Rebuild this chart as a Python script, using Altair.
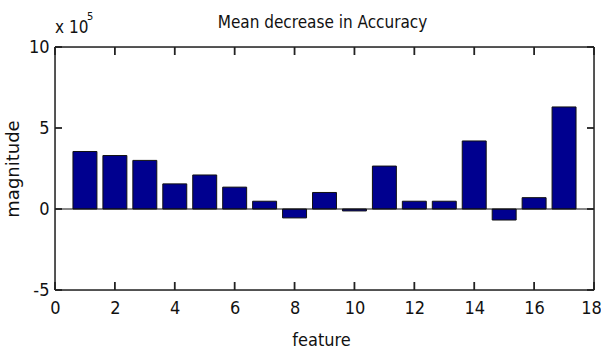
import altair as alt
import pandas as pd

features = list(range(1, 18))
values_e5 = [3.55, 3.3, 3.0, 1.55, 2.1, 1.35, 0.48, -0.55, 1.02, -0.12,
             2.65, 0.48, 0.48, 4.2, -0.68, 0.7, 6.3]
x_ticks = [0, 2, 4, 6, 8, 10, 12, 14, 16, 18]
y_ticks = [-5, 0, 5, 10]

W, H = 539, 243
NARROW = "DejaVu Sans Condensed, Liberation Sans"
INK = "#111"

df = pd.DataFrame({"feature": features, "value": values_e5})
xt = pd.DataFrame({"tv": x_ticks})
yt = pd.DataFrame({"tv": y_ticks})

xs = alt.Scale(domain=[0, 18], nice=False, zero=False)
ys = alt.Scale(domain=[-5, 10], nice=False, zero=False)

x_axis = alt.Axis(values=x_ticks, ticks=False, domain=False, grid=False,
                  labelFont=NARROW, labelFontSize=18, labelColor=INK,
                  labelPadding=9, labelFlush=False,
                  labelOffset={"expr": "datum.value == 18 ? -3 : 0"},
                  title="feature", titleFont=NARROW, titleFontSize=18,
                  titleFontWeight="normal", titleColor=INK,
                  titleX=266, titleY=55, titleBaseline="alphabetic")
y_axis = alt.Axis(values=y_ticks, ticks=False, domain=False, grid=False,
                  labelFont=NARROW, labelFontSize=18, labelColor=INK,
                  labelPadding=6, labelFlush=False,
                  labelExpr="'' + datum.value",
                  title="magnitude", titleFont="DejaVu Sans", titleFontSize=18,
                  titleFontWeight="normal", titleColor=INK,
                  titleX=-37, titleY=H / 2, titleAngle=-90,
                  titleBaseline="alphabetic", titleAlign="center")

base = alt.Chart(df)

bars = base.transform_calculate(
    x0="datum.feature - 0.4", x1="datum.feature + 0.4", zero="0"
).mark_rect(color="#00008F", stroke=INK, strokeWidth=1).encode(
    x=alt.X("x0:Q", scale=xs, axis=x_axis),
    x2="x1:Q",
    y=alt.Y("zero:Q", scale=ys, axis=y_axis),
    y2="value:Q",
)

zero_line = base.transform_aggregate(n="count()").transform_calculate(
    a="0", b="18", z="0"
).mark_rule(color=INK, strokeWidth=1).encode(
    x=alt.X("a:Q", scale=xs), x2="b:Q", y=alt.Y("z:Q", scale=ys)
)

# box frame: horizontal edges at y ends, vertical edges at x ends
BOX = "#222"
box_h = alt.Chart(pd.DataFrame({"tv": [y_ticks[0], y_ticks[-1]]})).transform_calculate(
    a="0", b="18"
).mark_rule(color=BOX, strokeWidth=1.5).encode(
    y=alt.Y("tv:Q", scale=ys), x=alt.X("a:Q", scale=xs), x2="b:Q")
box_v = alt.Chart(pd.DataFrame({"tv": [x_ticks[0], x_ticks[-1]]})).transform_calculate(
    a="-5", b="10"
).mark_rule(color=BOX, strokeWidth=1.5).encode(
    x=alt.X("tv:Q", scale=xs), y=alt.Y("a:Q", scale=ys), y2="b:Q")

# inward tick marks on all four sides (MATLAB box style)
TK = "#222"
xt_bottom = alt.Chart(xt).transform_calculate(
    lo="-5", hi="-5 + 15 * 8 / 243"
).mark_rule(color=TK, strokeWidth=1.8).encode(
    x=alt.X("tv:Q", scale=xs), y=alt.Y("lo:Q", scale=ys), y2="hi:Q")
xt_top = alt.Chart(xt).transform_calculate(
    lo="10 - 15 * 8 / 243", hi="10"
).mark_rule(color=TK, strokeWidth=1.8).encode(
    x=alt.X("tv:Q", scale=xs), y=alt.Y("lo:Q", scale=ys), y2="hi:Q")
yt_left = alt.Chart(yt).transform_calculate(
    lo="0", hi="18 * 7 / 539"
).mark_rule(color=TK, strokeWidth=1.8).encode(
    y=alt.Y("tv:Q", scale=ys), x=alt.X("lo:Q", scale=xs), x2="hi:Q")
yt_right = alt.Chart(yt).transform_calculate(
    lo="18 - 18 * 7 / 539", hi="18"
).mark_rule(color=TK, strokeWidth=1.8).encode(
    y=alt.Y("tv:Q", scale=ys), x=alt.X("lo:Q", scale=xs), x2="hi:Q")

title_text = alt.Chart(pd.DataFrame({"t": ["Mean decrease in Accuracy"]})).mark_text(
    font=NARROW, fontSize=17, align="center", baseline="alphabetic", color=INK
).encode(x=alt.value(W / 2 - 2), y=alt.value(-19), text="t:N")

exp_text = alt.Chart(pd.DataFrame({"t": ["x 10"]})).mark_text(
    font=NARROW, fontSize=17, align="left", baseline="alphabetic", color=INK
).encode(x=alt.value(0), y=alt.value(-14), text="t:N")
exp_sup = alt.Chart(pd.DataFrame({"t": ["5"]})).mark_text(
    font=NARROW, fontSize=11, align="left", baseline="alphabetic", color=INK
).encode(x=alt.value(32), y=alt.value(-27), text="t:N")

chart = alt.layer(bars, zero_line, box_h, box_v, xt_bottom, xt_top, yt_left,
                  yt_right, title_text, exp_text, exp_sup).properties(
    width=W, height=H,
    autosize=alt.AutoSizeParams(type="none"),
    padding={"left": 55, "top": 47, "right": 7, "bottom": 61},
).configure_view(stroke=None).configure(background="white")

chart.save("out.html", embed_options={"renderer": "svg", "actions": False})
